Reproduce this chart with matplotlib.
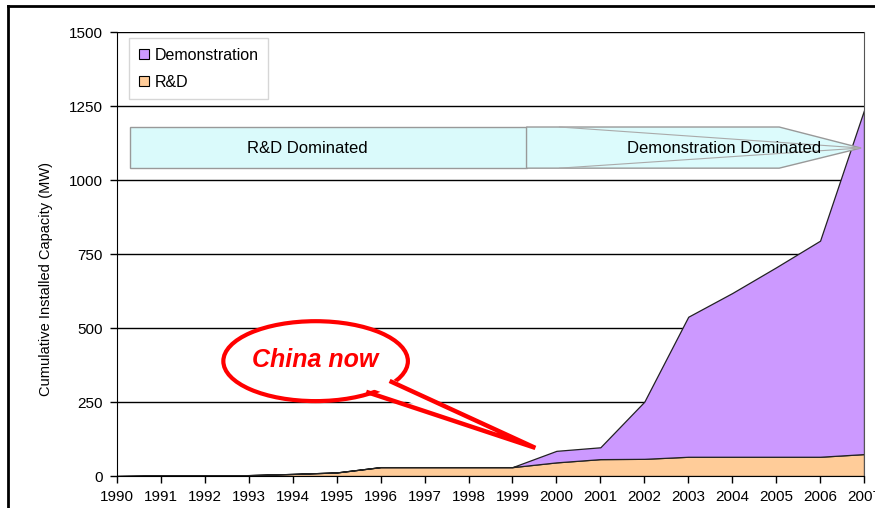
import matplotlib
matplotlib.use('Agg')
import matplotlib.pyplot as plt
from matplotlib.patches import Polygon, Ellipse, Patch
from matplotlib.lines import Line2D

plt.rcParams['font.family'] = ['Liberation Sans', 'DejaVu Sans']

# cumulative installed capacity (MW)
years = list(range(1990, 2008))
rnd = [0, 2, 2, 3, 7, 12, 30, 30, 30, 30, 46, 57, 58, 65, 65, 65, 65, 74]
demo = [0, 0, 0, 0, 0, 0, 0, 0, 0, 0, 39, 40, 193, 473, 553, 640, 730, 1162]
series_names = ['R&D', 'Demonstration']
colors = ['#ffcc99', '#cc99ff']
yticks = [0, 250, 500, 750, 1000, 1250, 1500]

fig = plt.figure(figsize=(8.75, 5.08), dpi=100)
ax = fig.add_axes([117 / 875, 32 / 508, 747 / 875, 444 / 508])

ax.stackplot(years, rnd, demo, colors=colors, edgecolor='#222222',
             linewidth=0.9, zorder=2)

ax.set_xlim(1990, 2007)
ax.set_ylim(0, 1500)
ax.set_xticks(years)
ax.set_xticklabels([str(y) for y in years], fontsize=11)
ax.set_yticks(yticks)
ax.set_yticklabels([str(v) for v in yticks], fontsize=11)
ax.tick_params(direction='out', length=5, width=1, color='black', pad=5)
for v in yticks[1:]:
    ax.axhline(v, color='black', lw=1, zorder=1)

ax.spines['top'].set_visible(False)
ax.spines['right'].set_color('#555555')
ax.spines['left'].set_color('black')
ax.spines['bottom'].set_color('black')

ax.set_ylabel('Cumulative Installed Capacity (MW)', fontsize=10.5)
ax.yaxis.set_label_coords(-0.086, 0.444)

# phase arrows
box1 = Polygon([(1990.3, 1040), (1990.3, 1179), (1999.32, 1179), (1999.32, 1040)],
               closed=True, facecolor='#dafafb', edgecolor='#999999', lw=1, zorder=3)
box2 = Polygon([(1999.32, 1040), (1999.32, 1179), (2005.07, 1179), (2006.93, 1108),
                (2005.07, 1040)],
               closed=True, facecolor='#dcfbfc', edgecolor='#999999', lw=1, zorder=3)
ax.add_patch(box1)
ax.add_patch(box2)
ax.plot([2000.07, 2006.93, 2000.07], [1179, 1108, 1040], color='#aaaaaa', lw=0.8, zorder=3)
ax.text(1994.34, 1108, 'R&D Dominated', fontsize=12, ha='center', va='center', zorder=4)
ax.text(2003.82, 1108, 'Demonstration Dominated', fontsize=12, ha='center', va='center', zorder=4)

# callout
ell = Ellipse((1994.52, 388), 4.2, 270, facecolor='white', edgecolor='red', lw=3, zorder=5)
ax.add_patch(ell)
tail_a = (1995.72, 282)
tail_b = (1996.25, 318)
tip = (1999.52, 95)
ax.add_patch(Polygon([(1995.7, 300), tip, (1996.1, 338)], closed=True,
                     facecolor='white', edgecolor='none', zorder=6))
ax.plot([tail_a[0], tip[0], tail_b[0]], [tail_a[1], tip[1], tail_b[1]],
        color='red', lw=3.2, zorder=7, solid_joinstyle='miter')
ax.text(1994.52, 392, 'China now', color='red', fontsize=18, fontweight='bold',
        fontstyle='italic', ha='center', va='center', zorder=8)

# legend
handles = [Patch(facecolor=colors[1], edgecolor='black', lw=0.8),
           Patch(facecolor=colors[0], edgecolor='black', lw=0.8)]
leg = ax.legend(handles, ['Demonstration', 'R&D'], loc='upper left',
                bbox_to_anchor=(0.016, 0.9865), fontsize=11.5, frameon=True,
                fancybox=False, edgecolor='#cccccc', handlelength=0.65,
                handleheight=0.65, handletextpad=0.35, labelspacing=0.75,
                borderpad=0.6, borderaxespad=0)
leg.get_frame().set_linewidth(1)
leg.set_zorder(9)

# outer frame
fig.add_artist(Line2D([8 / 875, 8 / 875], [0, 1 - 6 / 508], color='black', lw=2))
fig.add_artist(Line2D([8 / 875, 1], [1 - 6 / 508, 1 - 6 / 508], color='black', lw=2))

fig.savefig('out.png', dpi=100)
